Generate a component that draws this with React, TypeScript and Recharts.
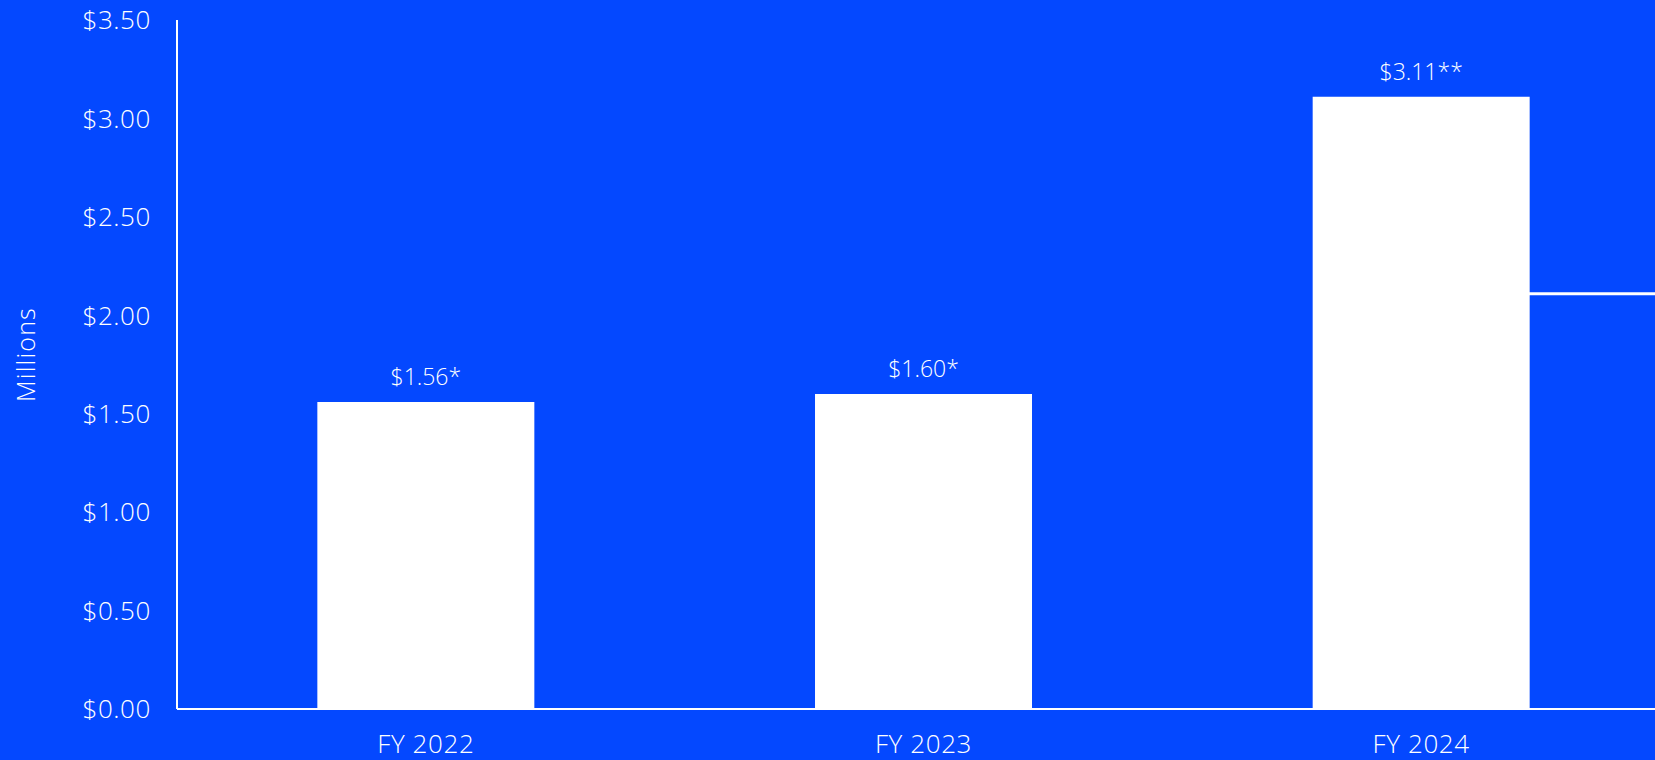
import { ComposedChart, Bar, LabelList, Line, XAxis, YAxis } from 'recharts';

const years = ['FY 2022', 'FY 2023', 'FY 2024'];
const revenue = [1.56, 1.6, 3.11];
const revenueLabels = ['$1.56*', '$1.60*', '$3.11**'];
const yTicks = [0, 0.5, 1, 1.5, 2, 2.5, 3, 3.5];
// short white marker to the right of the FY 2024 bar
const markerPos = [2.716, 3];
const markerLevel = [2.11, 2.11];

const BLUE = '#0448ff';
const FONT = '"Open Sans", sans-serif';

const chartData = years.map((year, i) => ({
  year,
  value: revenue[i],
  label: revenueLabels[i],
}));

const markerData = markerPos.map((pos, i) => ({ pos, level: markerLevel[i] }));

const tickStyle = {
  fill: '#ffffff',
  fontSize: 26,
  fontWeight: 300,
  fontFamily: FONT,
  letterSpacing: 0.6,
};

function MillionsLabel(props: any) {
  const vb = props.viewBox ?? { x: 0, y: 0, width: 0, height: 0 };
  const x = vb.x + 17;
  const y = vb.y + vb.height / 2 - 10;
  return (
    <text
      x={x}
      y={y}
      transform={`rotate(-90, ${x}, ${y})`}
      textAnchor="middle"
      dominantBaseline="central"
      fill="#ffffff"
      fontSize={25}
      fontWeight={300}
      fontFamily={FONT}
      letterSpacing={1.2}
    >
      Millions
    </text>
  );
}

export default function App() {
  return (
    <div
      style={{
        position: 'fixed',
        left: 0,
        top: 0,
        width: 1655,
        height: 760,
        background: BLUE,
        overflow: 'hidden',
      }}
    >
      <div style={{ position: 'absolute', left: 8, top: 8 }}>
        <ComposedChart
          width={1662}
          height={752}
          data={chartData}
          margin={{ top: 12, right: 0, bottom: 0, left: 0 }}
          barCategoryGap="28.2%"
          style={{ overflow: 'visible' }}
        >
          <XAxis
            dataKey="year"
            height={51}
            axisLine={{ stroke: '#ffffff', strokeWidth: 2 }}
            tickLine={false}
            tickSize={0}
            tickMargin={26}
            tick={tickStyle}
          />
          <XAxis
            xAxisId="seg"
            dataKey="pos"
            type="number"
            domain={[0, 3]}
            hide
            allowDataOverflow
          />
          <YAxis
            width={169}
            domain={[0, 3.5]}
            ticks={yTicks}
            interval={0}
            axisLine={{ stroke: '#ffffff', strokeWidth: 2 }}
            tickLine={false}
            tickSize={0}
            tickMargin={26}
            tick={tickStyle}
            tickFormatter={(v) => `$${Number(v).toFixed(2)}`}
            label={{ content: <MillionsLabel /> }}
          />
          <Bar dataKey="value" fill="#ffffff" isAnimationActive={false}>
            <LabelList
              dataKey="label"
              position="top"
              offset={17}
              fill="#ffffff"
              fontSize={23}
              fontWeight={300}
              fontFamily={FONT}
            />
          </Bar>
          <Line
            xAxisId="seg"
            data={markerData}
            dataKey="level"
            stroke="#ffffff"
            strokeWidth={3}
            dot={false}
            activeDot={false}
            isAnimationActive={false}
          />
        </ComposedChart>
      </div>
    </div>
  );
}
